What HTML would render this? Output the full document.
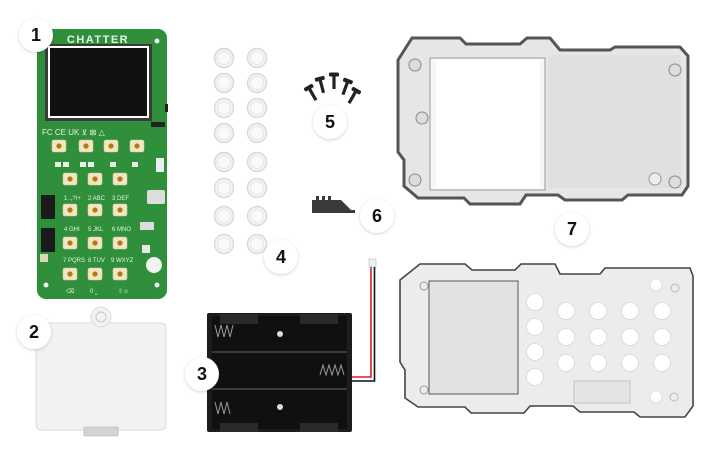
<!DOCTYPE html>
<html><head><meta charset="utf-8"><style>
html,body{margin:0;padding:0;background:#fff;width:720px;height:468px;overflow:hidden}
svg{display:block}
text{font-family:"Liberation Sans",sans-serif}
</style></head><body>
<svg width="720" height="468" viewBox="0 0 720 468" xmlns="http://www.w3.org/2000/svg">
<defs>
<filter id="sh" x="-30%" y="-30%" width="160%" height="160%"><feDropShadow dx="0" dy="1" stdDeviation="1.5" flood-color="#000" flood-opacity="0.18"/></filter>
<g id="btn"><rect x="-7" y="-6" width="14" height="12" rx="2" fill="#f1e6c4" stroke="#d8c99a" stroke-width="0.6"/><circle r="2.6" fill="#b07a16"/></g>
<g id="cap"><circle r="9.5" fill="#f4f4f4" stroke="#d8d8d8" stroke-width="1.4"/><circle r="6.5" fill="#fafafa" stroke="#e6e6e6" stroke-width="1"/></g>
</defs>

<!-- PCB -->
<rect x="37" y="29" width="130" height="270" rx="9" fill="#2f8f3a"/>
<text x="98" y="43" font-size="11" font-weight="bold" fill="#e8f2e8" text-anchor="middle" letter-spacing="1.5">CHATTER</text>
<rect x="45" y="44" width="107" height="77" fill="#3a3a3a"/>
<rect x="48" y="46" width="101" height="72" fill="#fff"/>
<rect x="50" y="48" width="97" height="68" fill="#111"/>
<rect x="165" y="104" width="3" height="8" fill="#222"/>
<text x="42" y="135" font-size="8" fill="#e6f0e6">FC CE UK ⊻ ⊠ △</text>
<rect x="151" y="122" width="14" height="5" fill="#222"/>
<g>
<use href="#btn" x="59" y="146"/><use href="#btn" x="86" y="146"/><use href="#btn" x="111" y="146"/><use href="#btn" x="137" y="146"/>
<use href="#btn" x="70" y="179"/><use href="#btn" x="95" y="179"/><use href="#btn" x="120" y="179"/>
<use href="#btn" x="70" y="210"/><use href="#btn" x="95" y="210"/><use href="#btn" x="120" y="210"/>
<use href="#btn" x="70" y="243"/><use href="#btn" x="95" y="243"/><use href="#btn" x="120" y="243"/>
<use href="#btn" x="70" y="274"/><use href="#btn" x="95" y="274"/><use href="#btn" x="120" y="274"/>
</g>
<g font-size="6" fill="#e8f2e8">
<rect x="55" y="162" width="6" height="5" fill="#e8f2e8"/><rect x="63" y="162" width="6" height="5" fill="#e8f2e8"/><rect x="80" y="162" width="6" height="5" fill="#e8f2e8"/><rect x="88" y="162" width="6" height="5" fill="#e8f2e8"/><rect x="110" y="162" width="6" height="5" fill="#e8f2e8"/><rect x="132" y="162" width="6" height="5" fill="#e8f2e8"/>
<text x="64" y="200">1 .,?!+</text><text x="88" y="200">2 ABC</text><text x="112" y="200">3 DEF</text>
<text x="64" y="231">4 GHI</text><text x="88" y="231">5 JKL</text><text x="112" y="231">6 MNO</text>
<text x="63" y="262">7 PQRS</text><text x="88" y="262">8 TUV</text><text x="111" y="262">9 WXYZ</text>
<text x="66" y="293">⌫</text><text x="90" y="293">0 ⎵</text><text x="118" y="293">⇧☺</text>
</g>
<rect x="41" y="195" width="14" height="24" fill="#1a1a1a"/><rect x="41" y="228" width="14" height="24" fill="#1a1a1a"/>
<rect x="147" y="190" width="18" height="14" rx="2" fill="#ddd"/>
<rect x="140" y="222" width="14" height="8" fill="#ddd"/>
<rect x="142" y="245" width="8" height="8" fill="#e8e8e8"/>
<circle cx="154" cy="265" r="8" fill="#f2f2f2"/>
<rect x="40" y="254" width="8" height="8" fill="#e0d6b8"/>
<rect x="156" y="158" width="8" height="14" fill="#eee"/>
<circle cx="46" cy="285" r="2.5" fill="#eee"/><circle cx="157" cy="285" r="2.5" fill="#eee"/><circle cx="157" cy="41" r="2.5" fill="#eee"/>

<!-- back cover 2 -->
<rect x="36" y="323" width="130" height="107" rx="5" fill="#f2f2f2" stroke="#dcdcdc" stroke-width="1"/>
<circle cx="101" cy="317" r="10" fill="#f2f2f2" stroke="#dcdcdc"/>
<circle cx="101" cy="317" r="5" fill="none" stroke="#c8c8c8"/>
<rect x="84" y="427" width="34" height="9" rx="1" fill="#d4d4d4" stroke="#aaa" stroke-width="0.6"/>

<!-- caps 4 -->
<g>
<use href="#cap" x="224" y="58"/><use href="#cap" x="257" y="58"/>
<use href="#cap" x="224" y="83"/><use href="#cap" x="257" y="83"/>
<use href="#cap" x="224" y="108"/><use href="#cap" x="257" y="108"/>
<use href="#cap" x="224" y="133"/><use href="#cap" x="257" y="133"/>
<use href="#cap" x="224" y="162"/><use href="#cap" x="257" y="162"/>
<use href="#cap" x="224" y="188"/><use href="#cap" x="257" y="188"/>
<use href="#cap" x="224" y="216"/><use href="#cap" x="257" y="216"/>
<use href="#cap" x="224" y="244"/><use href="#cap" x="257" y="244"/>
</g>

<!-- screws 5 -->
<g fill="#222" stroke="#222">
<g transform="translate(313,95) rotate(-30)"><rect x="-1.6" y="-8" width="3.2" height="14" stroke="none"/><rect x="-4.5" y="-10" width="9" height="3" rx="1"/></g>
<g transform="translate(322,87) rotate(-15)"><rect x="-1.6" y="-8" width="3.2" height="14" stroke="none"/><rect x="-4.5" y="-10" width="9" height="3" rx="1"/></g>
<g transform="translate(334,83)"><rect x="-1.6" y="-8" width="3.2" height="14" stroke="none"/><rect x="-4.5" y="-10" width="9" height="3" rx="1"/></g>
<g transform="translate(345,89) rotate(20)"><rect x="-1.6" y="-8" width="3.2" height="14" stroke="none"/><rect x="-4.5" y="-10" width="9" height="3" rx="1"/></g>
<g transform="translate(352,98) rotate(30)"><rect x="-1.6" y="-8" width="3.2" height="14" stroke="none"/><rect x="-4.5" y="-10" width="9" height="3" rx="1"/></g>
</g>

<!-- connector 6 -->
<path d="M312 200 h4 v-4 h3 v4 h3 v-4 h3 v4 h3 v-4 h3 v4 h10 l10 10 h4 v3 h-43 z" fill="#3a3a3a"/>

<!-- wires -->
<rect x="369" y="259" width="7" height="8" fill="#eee" stroke="#bbb" stroke-width="0.6"/>
<path d="M371 267 V377 H352" fill="none" stroke="#d42020" stroke-width="1.6"/>
<path d="M374.5 267 V381 H352" fill="none" stroke="#111" stroke-width="1.6"/>

<!-- battery 3 -->
<rect x="207" y="313" width="145" height="119" rx="2" fill="#1c1c1c"/>
<rect x="212" y="316" width="135" height="113" fill="#101010"/>
<line x1="212" y1="352" x2="347" y2="352" stroke="#3a3a3a" stroke-width="2"/>
<line x1="212" y1="389" x2="347" y2="389" stroke="#3a3a3a" stroke-width="2"/>
<rect x="220" y="314" width="38" height="10" fill="#2a2a2a"/><rect x="300" y="314" width="38" height="10" fill="#2a2a2a"/>
<rect x="220" y="423" width="38" height="9" fill="#2a2a2a"/><rect x="300" y="423" width="38" height="9" fill="#2a2a2a"/>
<circle cx="280" cy="334" r="3" fill="#ddd"/><circle cx="280" cy="407" r="3" fill="#ddd"/>
<path d="M215 325 l3 12 l3 -12 l3 12 l3 -12 l3 12 l3 -12" fill="none" stroke="#999" stroke-width="1"/>
<path d="M320 375 l3 -10 l3 10 l3 -10 l3 10 l3 -10 l3 10 l3 -10 l3 10" fill="none" stroke="#999" stroke-width="1"/>
<path d="M215 402 l3 12 l3 -12 l3 12 l3 -12 l3 12" fill="none" stroke="#999" stroke-width="1"/>

<!-- case top 7 -->
<path d="M412 38 H460 L466 44 H520 L527 38 H550 L560 50 H610 L615 47 H680 L688 56 V186 L682 195 H628 L622 200 H565 L558 195 H526 L520 204 H470 L464 198 H418 L404 186 V160 L398 152 V60 Z" fill="#e6e6e6" stroke="#555" stroke-width="3"/>
<path d="M430 58 H545 V190 H430 Z" fill="#f6f6f6" stroke="#999" stroke-width="1"/>
<rect x="436" y="60" width="104" height="128" rx="3" fill="#fff"/>
<rect x="548" y="55" width="133" height="133" fill="#e0e0e0"/>
<circle cx="415" cy="65" r="6" fill="#ddd" stroke="#888"/><circle cx="415" cy="180" r="6" fill="#ddd" stroke="#888"/><circle cx="422" cy="118" r="6" fill="#ddd" stroke="#888"/>
<circle cx="675" cy="70" r="6" fill="#ddd" stroke="#888"/><circle cx="675" cy="182" r="6" fill="#ddd" stroke="#888"/><circle cx="655" cy="179" r="6" fill="#eee" stroke="#999"/>

<!-- case bottom -->
<path d="M420 264 H465 L472 270 H515 L521 264 H555 L560 274 H600 L605 268 H690 L693 276 V406 L685 417 H640 L634 412 H580 L573 406 H530 L524 413 H471 L465 407 H418 L405 398 V370 L400 362 V280 Z" fill="#ececec" stroke="#444" stroke-width="1.6"/>
<rect x="429" y="281" width="89" height="113" fill="#e2e2e2" stroke="#555" stroke-width="1"/>
<rect x="574" y="381" width="56" height="22" fill="#e4e4e4" stroke="#bbb" stroke-width="0.8"/>
<g fill="#fff" stroke="#ccc" stroke-width="0.6">
<circle cx="535" cy="302" r="8.5"/><circle cx="535" cy="327" r="8.5"/><circle cx="535" cy="352" r="8.5"/><circle cx="535" cy="377" r="8.5"/>
<circle cx="566" cy="311" r="8.5"/><circle cx="598" cy="311" r="8.5"/><circle cx="630" cy="311" r="8.5"/><circle cx="662" cy="311" r="8.5"/>
<circle cx="566" cy="337" r="8.5"/><circle cx="598" cy="337" r="8.5"/><circle cx="630" cy="337" r="8.5"/><circle cx="662" cy="337" r="8.5"/>
<circle cx="566" cy="363" r="8.5"/><circle cx="598" cy="363" r="8.5"/><circle cx="630" cy="363" r="8.5"/><circle cx="662" cy="363" r="8.5"/>
<circle cx="656" cy="285" r="6"/><circle cx="656" cy="397" r="6"/>
</g>
<circle cx="424" cy="286" r="4" fill="none" stroke="#999"/><circle cx="424" cy="390" r="4" fill="none" stroke="#999"/><circle cx="675" cy="288" r="4" fill="none" stroke="#bbb"/><circle cx="674" cy="397" r="4" fill="none" stroke="#bbb"/>

<!-- labels -->
<g filter="url(#sh)" fill="#fff">
<circle cx="36" cy="35" r="17"/><circle cx="34" cy="332" r="17"/><circle cx="202" cy="374" r="17"/><circle cx="281" cy="257" r="17"/><circle cx="330" cy="122" r="17"/><circle cx="377" cy="216" r="17"/><circle cx="572" cy="229" r="17"/>
</g>
<g font-size="18" font-weight="bold" fill="#111" text-anchor="middle">
<text x="36" y="41">1</text><text x="34" y="338">2</text><text x="202" y="380">3</text><text x="281" y="263">4</text><text x="330" y="128">5</text><text x="377" y="222">6</text><text x="572" y="235">7</text>
</g>
</svg>
</body></html>
